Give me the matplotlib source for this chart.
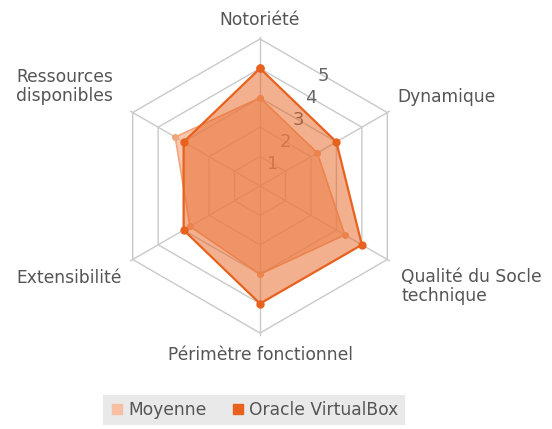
import numpy as np
import matplotlib
matplotlib.use("Agg")
import matplotlib.pyplot as plt
from matplotlib.lines import Line2D

# Critères (sens horaire à partir du haut)
criteres = ["Notoriété", "Dynamique", "Qualité du Socle\ntechnique",
            "Périmètre fonctionnel", "Extensibilité", "Ressources\ndisponibles"]
moyenne = [3.0, 2.25, 3.33, 3.0, 2.75, 3.33]
oracle = [4, 3, 4, 4, 3, 3]
graduations = [1, 2, 3, 4, 5]

c_oracle = "#E8621E"
c_moy = "#F2A47C"
gris = "#555555"

n = len(criteres)
angles = np.pi / 2 - 2 * np.pi * np.arange(n) / n


def xy(vals):
    v = np.asarray(vals, dtype=float)
    x = v * np.cos(angles)
    y = v * np.sin(angles)
    return np.append(x, x[0]), np.append(y, y[0])


fig = plt.figure(figsize=(5.52, 4.29), dpi=100)
ax = fig.add_axes([0, 0, 1, 1])
ax.set_xlim(-260 / 29.4, 292 / 29.4)
ax.set_ylim(-243 / 29.4, 186 / 29.4)
ax.set_aspect("equal")
ax.axis("off")

# grille hexagonale
for g in graduations:
    gx, gy = xy([g] * n)
    ax.plot(gx, gy, color="#c9c9c9", lw=1, zorder=1)
for a in angles:
    ax.plot([0, 5.08 * np.cos(a)], [0, 5.08 * np.sin(a)], color="#c9c9c9", lw=1, zorder=1)

# graduations 1..5 (au milieu des côtés, à 30°)
a_lab = np.pi / 2 - np.pi / 6
for g in graduations:
    r = g * np.cos(np.pi / 6)
    ax.text(r * np.cos(a_lab), r * np.sin(a_lab), str(g), color="#666666",
            fontsize=13, ha="center", va="center", zorder=2)

# séries
mx, my = xy(moyenne)
ax.fill(mx, my, color=c_moy, alpha=0.6, lw=0, zorder=3)
ax.plot(mx, my, color=c_moy, lw=1.2, marker="o", ms=4, zorder=4)

ox, oy = xy(oracle)
ax.fill(ox, oy, color=c_oracle, alpha=0.5, lw=0, zorder=5)
ax.plot(ox, oy, color=c_oracle, lw=1.6, marker="o", ms=5, zorder=6)

# libellés des axes
pos = [(0, 5.65, "center"),
       (4.66, 3.03, "left"),
       (4.8, -3.42, "left"),
       (0, -5.75, "center"),
       (-4.69, -3.13, "right"),
       (-5.0, 3.38, "right")]
for lab, (x, y, ha) in zip(criteres, pos):
    ax.text(x, y, lab, ha=ha, va="center", color=gris, fontsize=12.3,
            multialignment="center" if ha == "right" else "left", linespacing=1.08)

handles = [Line2D([], [], marker="s", ls="", color="#F7BFA3", ms=7),
           Line2D([], [], marker="s", ls="", color=c_oracle, ms=7)]
leg = fig.legend(handles, ["Moyenne", "Oracle VirtualBox"], ncol=2,
                 loc="center", bbox_to_anchor=(254 / 552, 1 - 410 / 429),
                 frameon=True, fancybox=False, facecolor="#e9e9e9", edgecolor="none",
                 framealpha=1, fontsize=12.3, handletextpad=0.2, columnspacing=1.4,
                 handlelength=0.9, borderpad=0.38, borderaxespad=0)
for t in leg.get_texts():
    t.set_color(gris)

fig.savefig("out.png", dpi=100)
